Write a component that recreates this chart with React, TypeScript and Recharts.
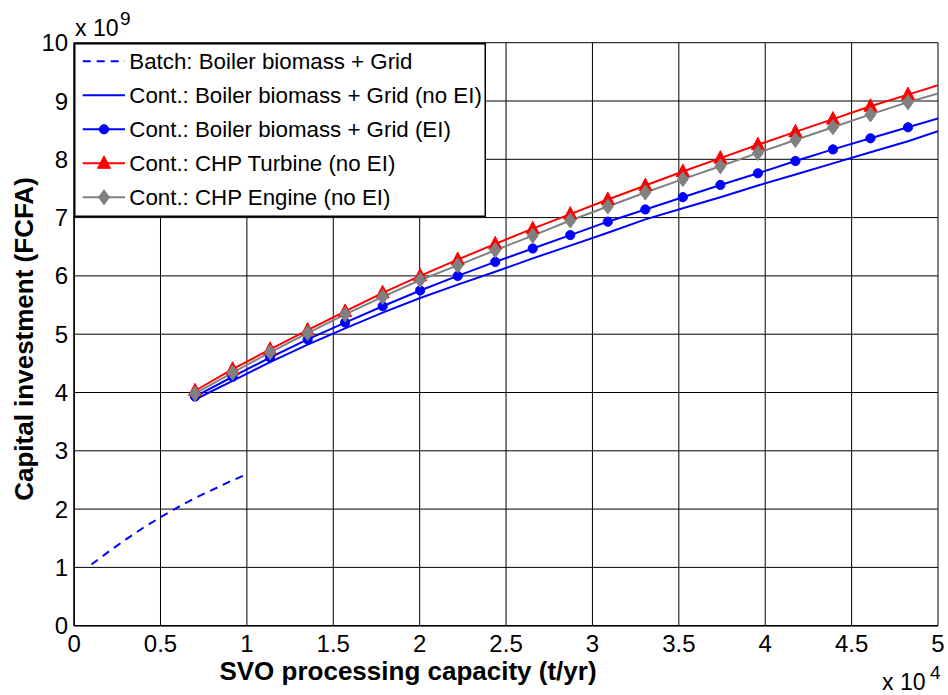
import React from 'react';
import { LineChart, Line, XAxis, YAxis, CartesianGrid, Legend } from 'recharts';

// SVO processing capacity (t/yr) for the continuous process curves
const capacityX = [7000, 9172, 11343, 13515, 15687, 17859, 20030, 22202, 24374, 26545, 28717, 30889, 33061, 35232, 37404, 39576, 41747, 43919, 46091, 48263, 50000];
// capital investment, x 10^9 FCFA
const boilerNoEI = [3.88, 4.2, 4.52, 4.82, 5.1, 5.37, 5.62, 5.85, 6.07, 6.3, 6.52, 6.74, 6.97, 7.16, 7.35, 7.55, 7.74, 7.93, 8.12, 8.31, 8.48];
const boilerEI = [3.93, 4.27, 4.6, 4.91, 5.2, 5.48, 5.75, 6.0, 6.24, 6.47, 6.7, 6.93, 7.14, 7.35, 7.56, 7.76, 7.97, 8.17, 8.36, 8.55, 8.7];
const chpTurbine = [4.03, 4.4, 4.74, 5.07, 5.39, 5.71, 6.0, 6.28, 6.55, 6.81, 7.06, 7.31, 7.55, 7.79, 8.02, 8.25, 8.47, 8.69, 8.91, 9.11, 9.27];
const chpEngine = [3.98, 4.34, 4.69, 5.02, 5.34, 5.64, 5.93, 6.18, 6.44, 6.69, 6.95, 7.19, 7.43, 7.66, 7.88, 8.11, 8.33, 8.55, 8.77, 8.98, 9.13];

// batch process
const batchX = [1000, 2000, 3000, 4000, 5000, 6000, 7000, 8000, 9000, 10000];
const batchY = [1.05, 1.27, 1.48, 1.68, 1.86, 2.03, 2.19, 2.33, 2.47, 2.6];

const xTicks = [0, 5000, 10000, 15000, 20000, 25000, 30000, 35000, 40000, 45000, 50000];
const yTicks = [0, 1, 2, 3, 4, 5, 6, 7, 8, 9, 10];

const FONT = '"Liberation Sans", Arial, Helvetica, sans-serif';

const batchData = batchX.map((x, i) => ({ x, v: batchY[i] }));
const contData = capacityX.map((x, i) => ({
  x,
  noEI: boilerNoEI[i],
  EI: boilerEI[i],
  turbine: chpTurbine[i],
  engine: chpEngine[i],
}));

type MarkerKind = 'none' | 'circle' | 'triangle' | 'diamond';

const series = [
  { name: 'Batch: Boiler biomass + Grid', color: '#0000ff', dash: '8 6', marker: 'none' as MarkerKind },
  { name: 'Cont.: Boiler biomass + Grid (no EI)', color: '#0000ff', dash: undefined, marker: 'none' as MarkerKind },
  { name: 'Cont.: Boiler biomass + Grid (EI)', color: '#0000ff', dash: undefined, marker: 'circle' as MarkerKind },
  { name: 'Cont.: CHP Turbine (no EI)', color: '#ff0000', dash: undefined, marker: 'triangle' as MarkerKind },
  { name: 'Cont.: CHP Engine (no EI)', color: '#808080', dash: undefined, marker: 'diamond' as MarkerKind },
];

function marker(kind: MarkerKind, cx: number, cy: number, color: string, key?: string) {
  if (kind === 'circle') return <circle key={key} cx={cx} cy={cy} r={4.6} fill={color} stroke={color} />;
  if (kind === 'triangle')
    return <path key={key} d={`M${cx},${cy - 7.5}L${cx + 6.5},${cy + 5}L${cx - 6.5},${cy + 5}Z`} fill={color} stroke={color} />;
  if (kind === 'diamond')
    return <path key={key} d={`M${cx},${cy - 7.5}L${cx + 5.5},${cy}L${cx},${cy + 7.5}L${cx - 5.5},${cy}Z`} fill={color} stroke={color} />;
  return <g key={key} />;
}

// markers on every point except the closing one at 5 x 10^4
const dotFor = (kind: MarkerKind, color: string) => (props: any) => {
  const { cx, cy, index } = props;
  if (cx == null || cy == null || index >= capacityX.length - 1) return <g key={`d-${index}`} />;
  return marker(kind, cx, cy, color, `d-${index}`);
};

const renderLegend = () => (
  <svg width={412} height={174} style={{ display: 'block' }}>
    <rect x={0.75} y={0.75} width={410.5} height={172.5} fill="#fff" stroke="#000" strokeWidth={1.5} />
    {series.map((s, i) => {
      const y = 18.3 + i * 34;
      return (
        <g key={s.name}>
          <line x1={8.7} x2={51} y1={y} y2={y} stroke={s.color} strokeWidth={2} strokeDasharray={s.dash} />
          {marker(s.marker, 30, y, s.color)}
          <text x={55.3} y={y + 8} fontSize={22.3} fontFamily={FONT} fill="#000">
            {s.name}
          </text>
        </g>
      );
    })}
  </svg>
);

const App: React.FC = () => {
  return (
    <div style={{ position: 'absolute', left: 0, top: 0, width: 948, height: 695, background: '#fff' }}>
      <LineChart width={948} height={695} margin={{ top: 42.7, right: 10, left: 0, bottom: 0 }}>
        <CartesianGrid stroke="#000" strokeWidth={1} />
        <XAxis
          type="number"
          dataKey="x"
          domain={[0, 50000]}
          ticks={xTicks}
          allowDataOverflow
          height={69.3}
          tickSize={4}
          tickMargin={5}
          tickLine={false}
          axisLine={{ stroke: '#000', strokeWidth: 1.5 }}
          tick={{ fontSize: 24, fill: '#000', fontFamily: FONT }}
          tickFormatter={(v: number) => String(v / 10000)}
          label={{
            content: () => (
              <g fontFamily={FONT} fill="#000">
                <text x={408} y={680} textAnchor="middle" fontSize={26} fontWeight="bold">
                  SVO processing capacity (t/yr)
                </text>
                <text x={882} y={690} fontSize={23}>
                  x 10
                </text>
                <text x={930} y={679} fontSize={19}>
                  4
                </text>
              </g>
            ),
          }}
        />
        <YAxis
          type="number"
          domain={[0, 10]}
          ticks={yTicks}
          allowDataOverflow
          width={74.1}
          tickSize={4}
          tickMargin={2}
          tickLine={false}
          axisLine={{ stroke: '#000', strokeWidth: 1.5 }}
          tick={{ fontSize: 24, fill: '#000', fontFamily: FONT }}
          label={{
            content: () => (
              <g fontFamily={FONT} fill="#000">
                <text x={33} y={339} transform="rotate(-90 33 339)" textAnchor="middle" fontSize={26} fontWeight="bold">
                  Capital investment (FCFA)
                </text>
                <text x={75} y={36} fontSize={23}>
                  x 10
                </text>
                <text x={120} y={25} fontSize={19}>
                  9
                </text>
              </g>
            ),
          }}
        />
        <Line data={batchData} dataKey="v" name={series[0].name} stroke="#0000ff" strokeWidth={2} strokeDasharray="8 6" dot={false} isAnimationActive={false} type="linear" />
        <Line data={contData} dataKey="noEI" name={series[1].name} stroke="#0000ff" strokeWidth={2} dot={false} isAnimationActive={false} type="linear" />
        <Line data={contData} dataKey="EI" name={series[2].name} stroke="#0000ff" strokeWidth={2} dot={dotFor('circle', '#0000ff')} isAnimationActive={false} type="linear" />
        <Line data={contData} dataKey="turbine" name={series[3].name} stroke="#ff0000" strokeWidth={2} dot={dotFor('triangle', '#ff0000')} isAnimationActive={false} type="linear" />
        <Line data={contData} dataKey="engine" name={series[4].name} stroke="#808080" strokeWidth={2} dot={dotFor('diamond', '#808080')} isAnimationActive={false} type="linear" />
        <Legend
          layout="vertical"
          align="center"
          verticalAlign="middle"
          content={renderLegend}
          wrapperStyle={{ left: 74, top: 42.7, width: 412, height: 174 }}
        />
      </LineChart>
    </div>
  );
};

export default App;
